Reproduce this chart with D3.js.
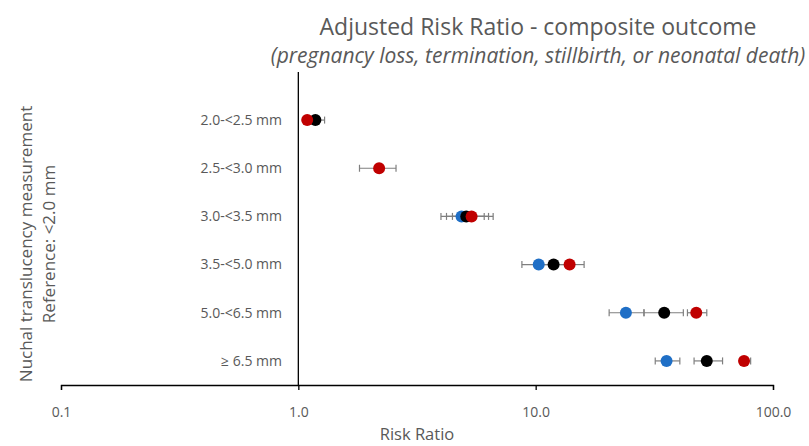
<!DOCTYPE html>
<html>
<head>
<meta charset="utf-8">
<script src="https://cdn.jsdelivr.net/npm/d3@7"></script>
<style>
  body { margin: 0; background: #fff; }
  svg { font-family: "Open Sans", sans-serif; }
</style>
</head>
<body>
<svg></svg>
<script>
let categories = ["2.0-<2.5 mm", "2.5-<3.0 mm", "3.0-<3.5 mm", "3.5-<5.0 mm", "5.0-<6.5 mm", "\u2265 6.5 mm"];
let xTicks = [0.1, 1, 10, 100];

// point estimate, lower and upper CI, per series (null = not shown)
let blueRR = [null, null, 4.87, 10.3, 24.0, 35.6];
let blueLo = [null, null, 3.99, 8.75, 20.4, 31.9];
let blueHi = [null, null, 6.07, 11.9, 28.6, 40.5];

let blackRR = [1.18, null, 5.1, 11.9, 34.8, 52.6];
let blackLo = [1.06, null, 4.21, 10.3, 28.6, 46.5];
let blackHi = [1.29, null, 6.33, 13.9, 41.9, 61.3];

let redRR = [1.09, 2.19, 5.37, 13.9, 47.5, 75.5];
let redLo = [null, 1.81, 4.46, 11.9, 43.6, 72.6];
let redHi = [null, 2.58, 6.62, 16.0, 52.6, 80.5];

let width = 809;
let height = 446;
let padLeft = 61, padRight = 773, padTop = 96, padBottom = 385;

let svg = d3.select("svg").attr("width", width).attr("height", height);

let xScale = d3.scaleLog().domain([0.1, 100]).range([padLeft, padRight]);
let yScale = d3.scaleBand().domain(categories).range([padTop, padBottom]);

function rows(rr, lo, hi, color) {
  return categories.map((c, i) => ({ cat: c, rr: rr[i], lo: lo[i], hi: hi[i], color: color }))
    .filter(d => d.rr != null);
}

let series = [
  rows(blueRR, blueLo, blueHi, "#1f6fc6"),
  rows(blackRR, blackLo, blackHi, "#000000"),
  rows(redRR, redLo, redHi, "#c00000")
];

// x axis
let xAxis = d3.axisBottom(xScale).tickValues(xTicks).tickFormat(d3.format(".1f")).tickSizeOuter(0).tickSize(5);
let gx = svg.append("g").attr("transform", "translate(0," + padBottom + ")").call(xAxis);
gx.select(".domain").attr("stroke", "#000").attr("stroke-width", 1.3);
gx.selectAll(".tick line").attr("stroke", "#000").attr("stroke-width", 1.3);
gx.selectAll(".tick text").attr("fill", "#595959").attr("font-size", 14).attr("font-family", "Open Sans").attr("dy", "1.7em");

// vertical axis crossing at 1.0
svg.append("line")
  .attr("x1", xScale(1)).attr("x2", xScale(1))
  .attr("y1", padTop - yScale.bandwidth() / 2).attr("y2", padBottom)
  .attr("stroke", "#000").attr("stroke-width", 1.3);

// category labels
svg.selectAll(".cat")
  .data(categories)
  .enter()
  .append("text")
  .attr("class", "cat")
  .attr("x", 282)
  .attr("y", d => yScale(d) + yScale.bandwidth() / 2)
  .attr("dy", "0.35em")
  .attr("text-anchor", "end")
  .attr("font-size", 14)
  .attr("fill", "#595959")
  .text(d => d);

let cy = d => yScale(d.cat) + yScale.bandwidth() / 2;

// error bars
series.forEach(s => {
  let e = s.filter(d => d.lo != null);
  let g = svg.append("g").attr("stroke", "#7f7f7f").attr("stroke-width", 1.2);
  g.selectAll(".bar").data(e).enter().append("line")
    .attr("x1", d => xScale(d.lo)).attr("x2", d => xScale(d.hi))
    .attr("y1", cy).attr("y2", cy);
  g.selectAll(".capl").data(e).enter().append("line")
    .attr("x1", d => xScale(d.lo)).attr("x2", d => xScale(d.lo))
    .attr("y1", d => cy(d) - 3.5).attr("y2", d => cy(d) + 3.5);
  g.selectAll(".caph").data(e).enter().append("line")
    .attr("x1", d => xScale(d.hi)).attr("x2", d => xScale(d.hi))
    .attr("y1", d => cy(d) - 3.5).attr("y2", d => cy(d) + 3.5);
});

// markers
series.forEach(s => {
  svg.append("g").selectAll("circle").data(s).enter().append("circle")
    .attr("cx", d => xScale(d.rr))
    .attr("cy", cy)
    .attr("r", 6)
    .attr("fill", d => d.color);
});

// titles
svg.append("text")
  .attr("x", 538).attr("y", 35)
  .attr("text-anchor", "middle")
  .attr("font-size", 23)
  .attr("fill", "#595959")
  .text("Adjusted Risk Ratio - composite outcome");

svg.append("text")
  .attr("x", 538).attr("y", 63)
  .attr("text-anchor", "middle")
  .attr("font-size", 21)
  .attr("font-style", "italic")
  .attr("fill", "#595959")
  .text("(pregnancy loss, termination, stillbirth, or neonatal death)");

svg.append("text")
  .attr("x", (padLeft + padRight) / 2).attr("y", 440)
  .attr("text-anchor", "middle")
  .attr("font-size", 16.5)
  .attr("fill", "#595959")
  .text("Risk Ratio");

let yt = svg.append("text")
  .attr("transform", "translate(32,244) rotate(-90)")
  .attr("text-anchor", "middle")
  .attr("font-size", 17)
  .attr("fill", "#595959");
yt.append("tspan").attr("x", 0).attr("dy", 0).text("Nuchal translucency measurement");
yt.append("tspan").attr("x", 0).attr("dy", 22.5).text("Reference: <2.0 mm");
</script>
</body>
</html>
